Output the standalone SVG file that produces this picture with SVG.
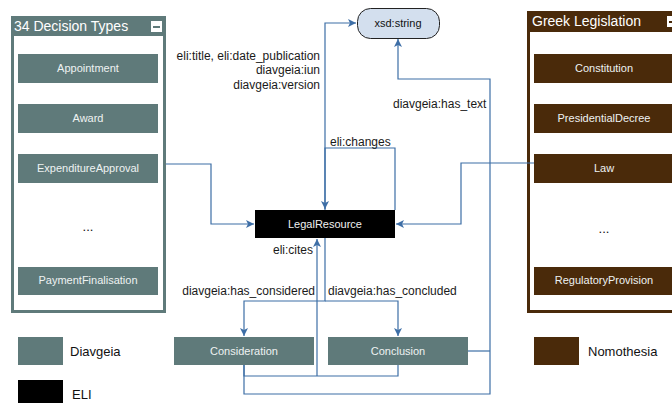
<svg xmlns="http://www.w3.org/2000/svg" width="672" height="403" viewBox="0 0 672 403">
<defs>
<style>
.lbl{font-family:"Liberation Sans",Arial,sans-serif;font-size:12px;fill:#1a1a1a}
.bt{font-family:"Liberation Sans",Arial,sans-serif;font-size:11px;fill:#eef2f2;text-anchor:middle}
.hd{font-family:"Liberation Sans",Arial,sans-serif;font-size:14px;fill:#ffffff}
.lg{font-family:"Liberation Sans",Arial,sans-serif;font-size:13px;fill:#111}
.dv{fill:#5f7a7a}
.nm{fill:#4a2a0a}
.c{fill:none;stroke:#3d6ea6;stroke-width:1.2}
</style>
<marker id="ar" markerUnits="userSpaceOnUse" markerWidth="10" markerHeight="10" refX="8" refY="4" orient="auto">
<path d="M0,0 L8,4 L0,8 L2,4 Z" fill="#3d6ea6"/>
</marker>
</defs>
<rect width="672" height="403" fill="#ffffff"/>

<g id="decision-types">
<rect x="12.5" y="17.5" width="152" height="294" fill="#fff" stroke="#5f7a7a" stroke-width="3"/>
<rect x="11" y="16" width="155" height="20" class="dv"/>
<text x="14" y="31" class="hd">34 Decision Types</text>
<rect x="151" y="21" width="11" height="11" fill="#fff"/>
<rect x="153" y="26" width="7" height="2" fill="#5f7a7a"/>
</g>
<g id="appointment"><rect x="18" y="54" width="140" height="29" class="dv"/><text x="88" y="72" class="bt">Appointment</text></g>
<g id="award"><rect x="18" y="104" width="140" height="29" class="dv"/><text x="88" y="122" class="bt">Award</text></g>
<g id="expenditure"><rect x="18" y="154" width="140" height="29" class="dv"/><text x="88" y="172" class="bt">ExpenditureApproval</text></g>
<text x="88" y="231" class="lg" text-anchor="middle" font-size="15">...</text>
<g id="payment"><rect x="18" y="267" width="140" height="28" class="dv"/><text x="88" y="284" class="bt">PaymentFinalisation</text></g>

<g id="greek-legislation">
<rect x="528.5" y="12.5" width="152" height="299" fill="#fff" stroke="#4a2a0a" stroke-width="3"/>
<rect x="527" y="11" width="155" height="21" class="nm"/>
<text x="532" y="26" class="hd">Greek Legislation</text>
<rect x="667" y="16" width="11" height="11" fill="#fff"/>
<rect x="669" y="21" width="7" height="2" fill="#4a2a0a"/>
</g>
<g id="constitution"><rect x="534" y="54" width="140" height="29" class="nm"/><text x="604" y="72" class="bt">Constitution</text></g>
<g id="presidential"><rect x="534" y="104" width="140" height="29" class="nm"/><text x="604" y="122" class="bt">PresidentialDecree</text></g>
<g id="law"><rect x="534" y="154" width="140" height="29" class="nm"/><text x="604" y="172" class="bt">Law</text></g>
<text x="604" y="233" class="lg" text-anchor="middle" font-size="15">...</text>
<g id="regulatory"><rect x="534" y="267" width="140" height="28" class="nm"/><text x="604" y="284" class="bt">RegulatoryProvision</text></g>

<g id="xsd-string"><rect x="357.5" y="8.5" width="82" height="30" rx="13" fill="#d3dfee" stroke="#222" stroke-width="1"/><text x="398" y="27" class="bt" style="fill:#111">xsd:string</text></g>
<g id="legal-resource"><rect x="255" y="210" width="140" height="28" fill="#000"/><text x="325" y="228" class="bt" style="fill:#f0f0f0">LegalResource</text></g>
<g id="consideration"><rect x="174" y="337" width="140" height="28" class="dv"/><text x="244" y="355" class="bt">Consideration</text></g>
<g id="conclusion"><rect x="328" y="337" width="140" height="28" class="dv"/><text x="398" y="355" class="bt">Conclusion</text></g>

<g id="legend">
<rect x="18" y="337" width="45" height="28" class="dv"/><text x="70" y="356" class="lg">Diavgeia</text>
<rect x="18" y="380" width="45" height="28" fill="#000"/><text x="72" y="399" class="lg">ELI</text>
<rect x="534" y="337" width="45" height="28" class="nm"/><text x="588" y="356" class="lg">Nomothesia</text>
</g>

<g id="connectors">
<path class="c" d="M166,164 H211 V224 H254" marker-end="url(#ar)"/>
<path class="c" d="M534,163 H461 V224 H396" marker-end="url(#ar)"/>
<path class="c" d="M325,210 V23 H356" marker-end="url(#ar)"/>
<path class="c" d="M395,210 V148 H325 V209" marker-end="url(#ar)"/>
<path class="c" d="M244,365 V394 H490 V79 H398 V39" marker-end="url(#ar)"/>
<path class="c" d="M468,351 H490"/>
<path class="c" d="M244,365 V376 H398 V365"/>
<path class="c" d="M317,376 V239" marker-end="url(#ar)"/>
<path class="c" d="M325,238 V301 H244 V336" marker-end="url(#ar)"/>
<path class="c" d="M325,301 H398 V336" marker-end="url(#ar)"/>
</g>

<g id="labels">
<text x="320" y="60" class="lbl" text-anchor="end">eli:title, eli:date_publication</text>
<text x="320" y="74" class="lbl" text-anchor="end">diavgeia:iun</text>
<text x="320" y="89" class="lbl" text-anchor="end">diavgeia:version</text>
<text x="330" y="146" class="lbl">eli:changes</text>
<text x="393" y="108" class="lbl">diavgeia:has_text</text>
<text x="313" y="254" class="lbl" text-anchor="end">eli:cites</text>
<text x="315" y="295" class="lbl" text-anchor="end">diavgeia:has_considered</text>
<text x="328" y="295" class="lbl">diavgeia:has_concluded</text>
</g>
</svg>
